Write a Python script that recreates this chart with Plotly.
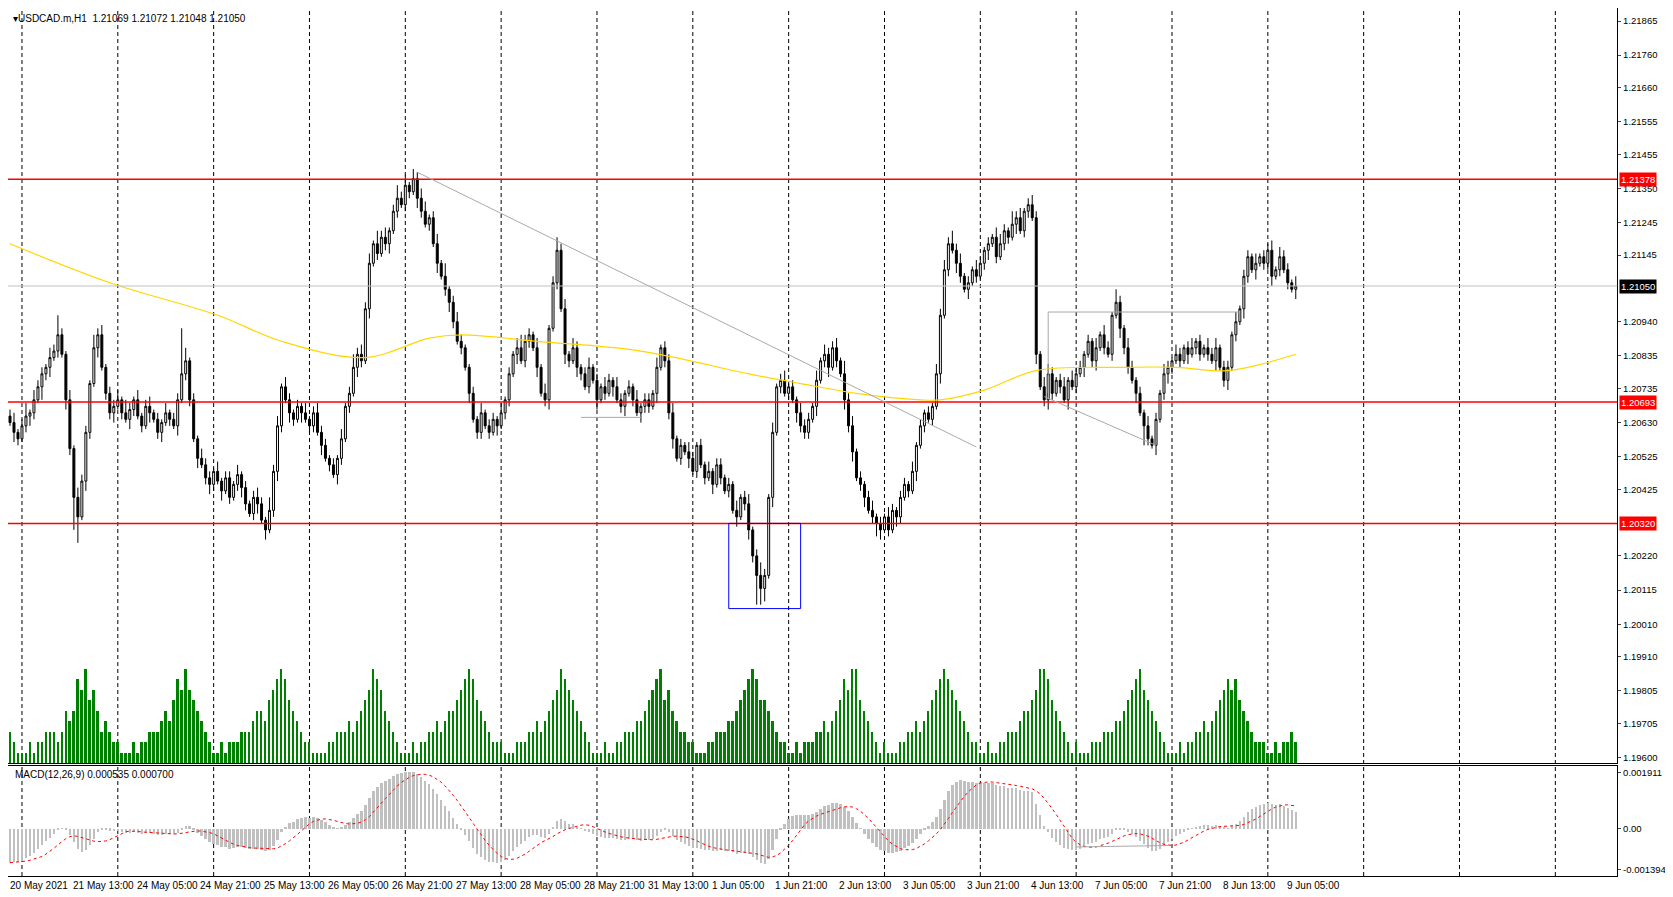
import plotly.graph_objects as go
import numpy as np

# closes in pips above 1.20000
closes_pips = [
63,60,58,62,65,66,70,74,78,80, 83,85,90,84,70,55,40,34,45,60,
75,86,90,80,72,66,68,70,66,64, 67,70,65,62,68,66,64,60,63,66,
64,62,70,78,82,70,58,52,50,46, 44,48,45,42,46,40,44,47,43,38,
35,40,38,33,30,36,48,62,74,70, 66,64,68,66,64,62,66,60,56,52,
50,47,52,58,68,72,80,84,82,98, 112,118,115,120,118,122,128,132,130,136,
134,138,132,128,124,126,118,112,108,104, 100,94,88,86,80,72,64,60,66,62,
60,64,62,66,70,78,84,86,82,88, 90,86,80,72,70,92,106,116,98,84,
82,86,80,78,74,80,76,70,74,72, 76,74,70,68,72,74,70,66,68,70,
68,72,80,86,82,66,58,52,56,54, 52,48,56,50,46,48,44,50,46,42,
44,36,34,40,38,30,22,16,12,16, 40,60,74,76,72,74,70,66,62,60,
64,68,76,82,84,80,86,82,78,70, 62,54,46,44,40,36,34,32,30,34,
30,36,34,40,44,42,48,56,62,66, 64,68,78,96,110,118,116,112,108,104,
106,110,108,112,116,118,120,114,118,122, 120,124,126,122,128,130,126,84,74,70,
78,72,76,74,70,76,74,78,80,84, 88,82,86,90,86,84,96,100,92,86,
80,76,72,66,62,58,56,64,72,78, 80,82,84,82,86,84,86,88,84,86,
84,82,86,80,76,80,90,94,98,108, 114,110,112,114,112,116,108,110,114,110,
106,104,105]
first_open_pips = 65
wick_up = ("2312413221 3242131322 1423122314 2131231213 1223412132 2131221312 1232142313 2121312322 "
           "1213124232 3142312423 1223312314 1232112131 2213121342 2131312423 1321231213 2132121312 "
           "2131223121 3212131221 2131231242 1312312132 2131322314 2312123121 3212213121 2132324231 "
           "2132121332 1423121213 3212313221 2131321421 3212131213 2132123121 3231221312 2131223132 213")
wick_dn = ("1321232142 3121326213 2131223121 3212131231 2131221312 3213121232 1231212321 3213122131 "
           "2132121321 3121231212 2132121312 3212131221 2131221312 2131231213 2132121312 1312312132 "
           "2131223121 3121213121 2131232214 1312121322 2131231213 2312312131 2132121312 1213121321 "
           "3121231212 2131221312 3212131213 1231212132 2131221312 3212131221 2131231213 2131223121 213")
key_highs = {12: 96, 101: 141, 137: 120, 256: 133, 43: 92}
key_lows = {16: 30, 17: 26, 64: 27, 187: 7, 188: 7, 217: 28, 284: 56}
volume_levels = ("321" + "112122333235458796753432" + "211121223334546879765432" + "112122233345546789865432"
                 + "211112233343456798754321" + "112122334345567898654322" + "211122233434567987654321"
                 + "112112233344567896754332" + "211122333445678986654322" + "112122233434568799654321"
                 + "211122334345678987654322" + "112112233345567998654321" + "211122233344567897654321"
                 + "112122334345678786543222" + "11212232")
ma_idx = [0, 25, 52, 68, 89, 105, 113, 132, 158, 185, 198, 212, 228, 233, 244, 257, 279, 292, 305, 322]
ma_pips = [118, 106, 96, 88, 83, 89, 90, 88, 85, 78, 75, 72, 70, 70, 73, 79, 80, 80, 79, 84]
# EMA values before the first bar (pre-history), pips
ema12_seed_pips = 70
ema26_seed_pips = 82
xlabels = ["20 May 2021", "21 May 13:00", "24 May 05:00", "24 May 21:00", "25 May 13:00", "26 May 05:00",
           "26 May 21:00", "27 May 13:00", "28 May 05:00", "28 May 21:00", "31 May 13:00", "1 Jun 05:00",
           "1 Jun 21:00", "2 Jun 13:00", "3 Jun 05:00", "3 Jun 21:00", "4 Jun 13:00", "7 Jun 05:00",
           "7 Jun 21:00", "8 Jun 13:00", "9 Jun 05:00"]
price_ticks = [1.21865, 1.21760, 1.21660, 1.21555, 1.21455, 1.21350, 1.21245, 1.21145, 1.20940, 1.20835,
               1.20735, 1.20630, 1.20525, 1.20425, 1.20220, 1.20115, 1.20010, 1.19910,
               1.19805, 1.19705, 1.19600]
levels = [1.21378, 1.20693, 1.20320]
current = 1.21050

n = len(closes_pips)
wu = [int(c) for c in wick_up.replace(" ", "")][:n]
wd = [int(c) for c in wick_dn.replace(" ", "")][:n]
vol = [int(c) for c in volume_levels][:n]
c = np.array(closes_pips, float)
o = np.concatenate([[first_open_pips], c[:-1]])
h = np.maximum(o, c) + np.array(wu)
l = np.minimum(o, c) - np.array(wd)
for k, v in key_highs.items(): h[k] = max(v, max(o[k], c[k]))
for k, v in key_lows.items(): l[k] = min(v, min(o[k], c[k]))
P = lambda a: 1.2 + np.asarray(a) / 10000.0
x = np.arange(n)

closes = P(c)
def ema(a, p, seed):
    out = np.zeros_like(a); k = 2 / (p + 1); prev = seed
    for i in range(len(a)):
        prev = a[i] * k + prev * (1 - k); out[i] = prev
    return out
macd = ema(closes, 12, P(ema12_seed_pips)) - ema(closes, 26, P(ema26_seed_pips))
sig = np.array([macd[max(0, i - 8):i + 1].mean() for i in range(n)])

fig = go.Figure()
fig.add_trace(go.Bar(x=x, y=vol, marker=dict(color="#008000", line=dict(width=0)), width=0.45,
                     yaxis="y3", showlegend=False))
fig.add_trace(go.Candlestick(x=x, open=P(o), high=P(h), low=P(l), close=closes,
    increasing=dict(line=dict(color="black", width=1), fillcolor="white"),
    decreasing=dict(line=dict(color="black", width=1), fillcolor="black"),
    whiskerwidth=0, showlegend=False, yaxis="y"))
fig.add_trace(go.Scatter(x=ma_idx, y=P(ma_pips), mode="lines", line=dict(color="#FFD700", width=1.2),
                         line_shape="spline", showlegend=False))
fig.add_trace(go.Bar(x=x, y=macd, marker=dict(color="#C0C0C0", line=dict(width=0)), width=0.6,
                     yaxis="y2", xaxis="x2", showlegend=False))
fig.add_trace(go.Scatter(x=x, y=sig, mode="lines", line=dict(color="red", width=1, dash="dot"),
                         yaxis="y2", xaxis="x2", showlegend=False))

XD = [0.0, 0.9665]
XR = [-0.5, 402.5]
YD_P = [0.1507, 1.0]
YD_M = [0.0236, 0.1474]
shapes = []
for d in range(3, 402, 24):
    shapes.append(dict(type="line", xref="x", yref="paper", x0=d, x1=d, y0=YD_M[0], y1=YD_P[1],
                       line=dict(color="black", width=1, dash="4px,3px"), layer="below"))
for lv in levels:
    shapes.append(dict(type="line", xref="paper", yref="y", x0=XD[0], x1=XD[1], y0=lv, y1=lv,
                       line=dict(color="red", width=1.5)))
shapes.append(dict(type="line", xref="paper", yref="y", x0=XD[0], x1=XD[1], y0=current, y1=current,
                   line=dict(color="#C0C0C0", width=1)))
shapes += [
    dict(type="line", xref="x", yref="y", x0=102, y0=1.2140, x1=242, y1=1.20555, line=dict(color="#A9A9A9", width=1)),
    dict(type="line", xref="x", yref="y", x0=259, y0=1.2071, x1=287, y1=1.2056, line=dict(color="#A9A9A9", width=1)),
    dict(type="line", xref="x", yref="y", x0=260, y0=1.2097, x1=308, y1=1.2097, line=dict(color="#A9A9A9", width=1)),
    dict(type="line", xref="x", yref="y", x0=260, y0=1.2097, x1=260, y1=1.2072, line=dict(color="#A9A9A9", width=1)),
    dict(type="line", xref="x", yref="y", x0=143, y0=1.20646, x1=158, y1=1.20646, line=dict(color="#A9A9A9", width=1)),
    dict(type="rect", xref="x", yref="y", x0=180, x1=198, y0=1.20058, y1=1.2032, line=dict(color="blue", width=1)),
    dict(type="line", xref="x2", yref="y2", x0=267, y0=-0.00063, x1=290, y1=-0.00058, line=dict(color="#A9A9A9", width=1)),
]

ann = [dict(text="▾USDCAD.m,H1  1.21069 1.21072 1.21048 1.21050", xref="paper", yref="paper", x=0.002, y=0.997,
            xanchor="left", yanchor="top", showarrow=False, font=dict(size=10, color="black")),
       dict(text="MACD(12,26,9) 0.000535 0.000700", xref="paper", yref="paper", x=0.003, y=YD_M[1] - 0.001,
            xanchor="left", yanchor="top", showarrow=False, font=dict(size=10, color="black"))]
for i, t in enumerate(xlabels):
    ann.append(dict(text=t, xref="x", yref="paper", x=max(i * 16 - 0.8, -0.45), y=YD_M[0] - 0.002,
                    xanchor="left", yanchor="top", showarrow=False, font=dict(size=10, color="black")))
for lv, col in [(1.21378, "red"), (1.20693, "red"), (1.20320, "red"), (current, "black")]:
    ann.append(dict(text=f"{lv:.5f}", xref="paper", yref="y", x=XD[1] + 0.001, y=lv, xanchor="left",
                    yanchor="middle", showarrow=False, bgcolor=col, font=dict(size=9.5, color="white"), borderpad=1))

ax = dict(showgrid=False, zeroline=False, showline=True, linecolor="black", mirror=True)
fig.update_layout(
    width=1665, height=889, margin=dict(l=0, r=0, t=0, b=0), paper_bgcolor="white", plot_bgcolor="white",
    font=dict(family="Liberation Sans, Arial", size=10, color="black"), bargap=0, showlegend=False,
    xaxis=dict(domain=XD, range=XR, anchor="y", showticklabels=False, rangeslider=dict(visible=False), **ax),
    yaxis=dict(domain=YD_P, range=[1.19583, 1.21905], side="right", tickvals=price_ticks,
               ticktext=[f"{t:.5f}" for t in price_ticks], ticks="outside", ticklen=3,
               tickfont=dict(size=9.5), **ax),
    yaxis3=dict(domain=YD_P, range=[0, 72], overlaying="y", visible=False),
    xaxis2=dict(domain=XD, range=XR, anchor="y2", showticklabels=False, ticks="", **ax),
    yaxis2=dict(domain=YD_M, range=[-0.00162, 0.00213], side="right", tickvals=[0.001911, 0, -0.001394],
                ticktext=["0.001911", "0.00", "-0.001394"], ticks="outside", ticklen=3,
                tickfont=dict(size=9.5), **ax),
    shapes=shapes, annotations=ann)
fig.write_html("out.html")
